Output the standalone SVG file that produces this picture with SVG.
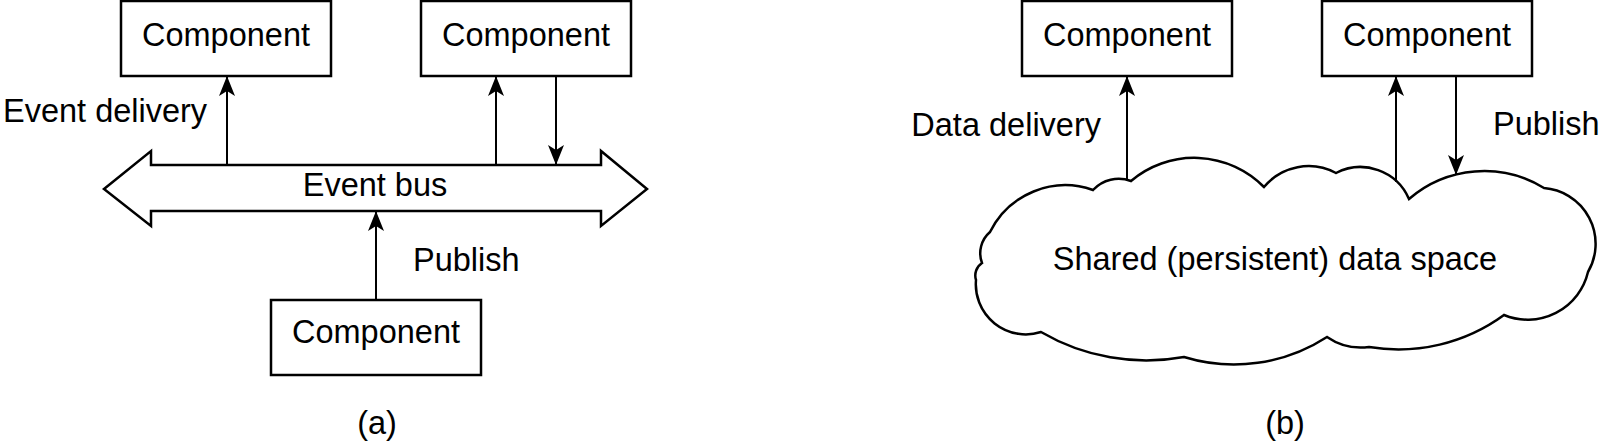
<svg xmlns="http://www.w3.org/2000/svg" width="1600" height="445" viewBox="0 0 1600 445">
<style>
text{font-family:"Liberation Sans",Arial,sans-serif;font-size:32.5px;fill:#000}
.box{fill:#fff;stroke:#000;stroke-width:2.5}
.ln{fill:none;stroke:#000;stroke-width:2}
.c{text-anchor:middle}
</style>
<defs>
<marker id="ah" viewBox="0 0 20 16" refX="19" refY="8" markerWidth="20" markerHeight="16" markerUnits="userSpaceOnUse" orient="auto">
<path d="M0,0 L20,8 L0,16 L5,8 z" fill="#000"/>
</marker>
</defs>
<rect width="1600" height="445" fill="#fff"/>
<g id="bus">
<polygon class="box" points="104,189 151,151 151,165 601,165 601,151 647,189 601,226 601,211 151,211 151,226"/>
<text class="c" x="375" y="196">Event bus</text>
</g>
<g id="cloud">
<path class="box" stroke-width="2" d="M990,232 A84,84 0 0 1 1093,190 A35,35 0 0 1 1131,181 A98,98 0 0 1 1264,187 A58,58 0 0 1 1336,173 A53,53 0 0 1 1409,199 A115,115 0 0 1 1544,188 A56,56 0 0 1 1588,272 A62,62 0 0 1 1504,315 A179,179 0 0 1 1369,347 A60,60 0 0 1 1327,337 A171,171 0 0 1 1184,357 A209,209 0 0 1 1041,332 A50,50 0 0 1 976,280 A15,15 0 0 1 982,263 A28,28 0 0 1 990,232 Z"/>
<text class="c" x="1275" y="270">Shared (persistent) data space</text>
</g>
<g id="compA1"><rect class="box" x="121" y="1" width="210" height="75"/><text class="c" x="226" y="46">Component</text></g>
<g id="compA2"><rect class="box" x="421" y="1" width="210" height="75"/><text class="c" x="526" y="46">Component</text></g>
<g id="compA3"><rect class="box" x="271" y="300" width="210" height="75"/><text class="c" x="376" y="343">Component</text></g>
<g id="compB1"><rect class="box" x="1022" y="1" width="210" height="75"/><text class="c" x="1127" y="46">Component</text></g>
<g id="compB2"><rect class="box" x="1322" y="1" width="210" height="75"/><text class="c" x="1427" y="46">Component</text></g>
<g id="connectors">
<line class="ln" x1="227" y1="165" x2="227" y2="77" marker-end="url(#ah)"/>
<line class="ln" x1="496" y1="165" x2="496" y2="77" marker-end="url(#ah)"/>
<line class="ln" x1="556" y1="77" x2="556" y2="164" marker-end="url(#ah)"/>
<line class="ln" x1="376" y1="300" x2="376" y2="212" marker-end="url(#ah)"/>
<line class="ln" x1="1127" y1="181" x2="1127" y2="77" marker-end="url(#ah)"/>
<line class="ln" x1="1396" y1="182" x2="1396" y2="77" marker-end="url(#ah)"/>
<line class="ln" x1="1456" y1="77" x2="1456" y2="174" marker-end="url(#ah)"/>
</g>
<g id="labels">
<text x="3" y="122">Event delivery</text>
<text x="413" y="271">Publish</text>
<text x="1101" y="136" text-anchor="end">Data delivery</text>
<text x="1493" y="135">Publish</text>
<text class="c" x="377" y="434">(a)</text>
<text class="c" x="1285" y="434">(b)</text>
</g>
</svg>
